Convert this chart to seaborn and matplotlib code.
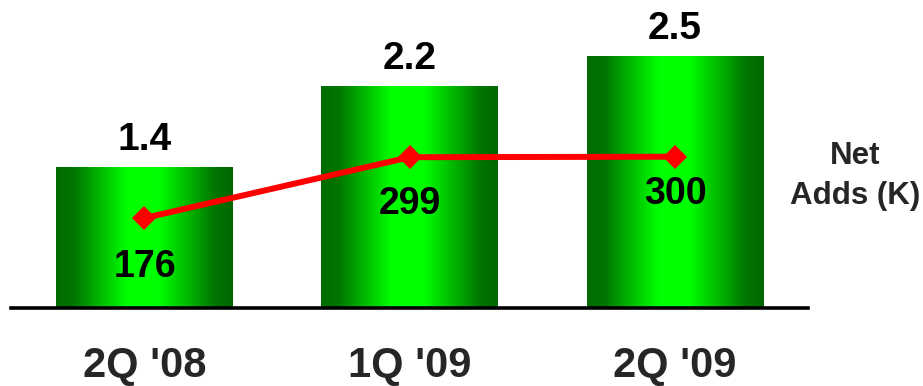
import numpy as np
import pandas as pd
import matplotlib
matplotlib.use("Agg")
import matplotlib.pyplot as plt
from matplotlib.colors import LinearSegmentedColormap
import seaborn as sns

# Quarterly figures
quarters = ["2Q '08", "1Q '09", "2Q '09"]
bar_values = [1.4, 2.2, 2.5]
net_adds = [176, 299, 300]
bar_labels = ["1.4", "2.2", "2.5"]
net_add_labels = ["176", "299", "300"]

# How far (in points) each net-adds label sits below its marker
net_label_drop = [35, 34, 27]

sns.set_style("white")
plt.rcParams["font.family"] = ["Liberation Sans", "DejaVu Sans"]
plt.rcParams["font.weight"] = "bold"

df = pd.DataFrame({"quarter": quarters, "value": bar_values, "adds": net_adds})

fig = plt.figure(figsize=(9.23, 3.86), dpi=100)
ax = fig.add_axes([11 / 923, 78 / 386, 797 / 923, 308 / 386])

sns.barplot(data=df, x="quarter", y="value", order=quarters, width=0.667,
            color="#00cc00", ax=ax, zorder=2)

# Horizontal dark-bright-dark gradient fill for each bar
green_cmap = LinearSegmentedColormap.from_list(
    "bar_green",
    [(0.00, (0.0, 0.42, 0.0)),
     (0.10, (0.0, 0.46, 0.0)),
     (0.40, (0.0, 1.00, 0.0)),
     (0.58, (0.0, 1.00, 0.0)),
     (0.90, (0.0, 0.46, 0.0)),
     (1.00, (0.0, 0.40, 0.0))])
grad = np.linspace(0, 1, 256).reshape(1, -1)
for patch in list(ax.patches):
    x0, y0 = patch.get_x(), patch.get_y()
    w, h = patch.get_width(), patch.get_height()
    patch.set_facecolor("none")
    patch.set_edgecolor("none")
    im = ax.imshow(grad, cmap=green_cmap, aspect="auto",
                   extent=[x0, x0 + w, y0, y0 + h], zorder=2,
                   interpolation="bicubic")
    im.set_clip_path(patch)

ax.set_xlim(-0.503, 2.501)
ax.set_ylim(0, 3.05)

for i, (v, lab) in enumerate(zip(bar_values, bar_labels)):
    ax.annotate(lab, (i, v), xytext=(0, 6.5), textcoords="offset points",
                ha="center", va="bottom", fontsize=28, fontweight="bold",
                color="black")

# Net adds line on a secondary scale
ax2 = ax.twinx()
sns.pointplot(data=df, x="quarter", y="adds", order=quarters, ax=ax2,
              color="#ff0000", markers="D", markersize=12,
              markeredgewidth=0, linewidth=4.3, errorbar=None)
ax2.set_xlim(-0.503, 2.501)
ax2.set_ylim(-6, 617)

for i, (v, lab, d) in enumerate(zip(net_adds, net_add_labels, net_label_drop)):
    ax2.annotate(lab, (i, v), xytext=(0, -d), textcoords="offset points",
                 ha="center", va="center", fontsize=27, fontweight="bold",
                 color="black")

for a in (ax, ax2):
    for side in ("top", "left", "right"):
        a.spines[side].set_visible(False)
    a.set_ylabel("")
    a.set_xlabel("")
    a.set_yticks([])
ax2.spines["bottom"].set_visible(False)
ax.spines["bottom"].set_linewidth(2.6)
ax.spines["bottom"].set_color("black")
ax.spines["bottom"].set_zorder(5)

ax.tick_params(axis="x", length=0, pad=27.5, labelsize=30)
for t in ax.get_xticklabels():
    t.set_fontweight("bold")
ax2.tick_params(axis="x", length=0, labelbottom=False)

fig.text(855 / 923, 1 - 176 / 386, "Net\nAdds (K)", ha="center", va="center",
         fontsize=22.5, fontweight="bold", linespacing=1.42)

fig.savefig("out.png", dpi=100)
